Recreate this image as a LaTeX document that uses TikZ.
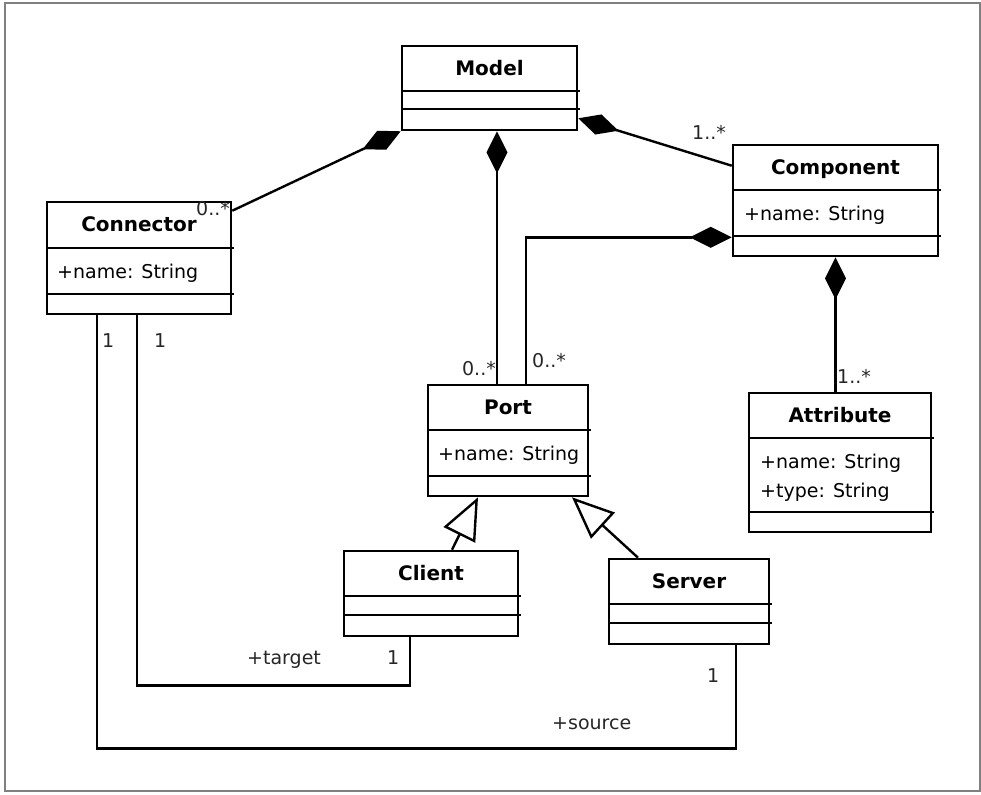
\documentclass[tikz,border=0pt]{standalone}
\usepackage{fontspec}
\setmainfont{DejaVu Sans}
\usetikzlibrary{arrows.meta,calc}
\tikzset{
  clsbox/.style={draw, line width=2.6pt, rectangle, inner sep=0pt, fill=white},
  divline/.style={line width=2.6pt},
  ctitle/.style={font=\bfseries\fontsize{20}{24}\selectfont, inner sep=0pt, text height=14pt, text depth=0pt},
  cattr/.style={font=\fontsize{19}{23}\selectfont, inner sep=0pt, text height=14pt, text depth=0pt, anchor=west},
  mult/.style={font=\fontsize{19}{23}\selectfont, text=black!85, inner sep=0pt, text height=14pt, text depth=0pt},
  assoc/.style={line width=2.4pt},
  compos/.style={assoc, {Diamond[length=42pt,width=21pt]}-},
  gener/.style={assoc, -{Triangle[open,length=42pt,width=35pt,fill=white]}},
}
% name, x1, y1, x2, y2, divider1, divider2, title
\newcommand\umlclass[8]{%
  \node[clsbox, minimum width={#4-#2}, minimum height={#5-#3}] (#1) at ({(#2+#4)/2},{(#3+#5)/2}) {};
  \draw[divline] (#2,#6) -- ({#4+3},#6);
  \draw[divline] (#2,#7) -- ({#4+3},#7);
  \node[ctitle] (#1-title) at ({(#2+#4)/2},{(#3+#6)/2}) {#8};
}
\begin{document}
\begin{tikzpicture}[x=1pt,y=-1pt]
\useasboundingbox (0,0) rectangle (981,794);
\draw[line width=2pt, color=gray] (4.5,3.5) rectangle (979.5,791);

% classes
\umlclass{model}{402}{46}{577}{130}{91}{109}{Model}
\umlclass{connector}{47}{202}{231}{314}{248}{294}{Connector}
\node[cattr] (connector-attr) at (57,271) {+name: String};
\umlclass{component}{733}{145}{938}{256}{190}{236}{Component}
\node[cattr] (component-attr) at (744,213) {+name: String};
\umlclass{port}{428}{385}{588}{496}{430}{476}{Port}
\node[cattr] (port-attr) at (438,453) {+name: String};
\umlclass{attribute}{749}{393}{931}{532}{438}{512}{Attribute}
\node[cattr] (attribute-attr1) at (760,461) {+name: String};
\node[cattr] (attribute-attr2) at (760,490) {+type: String};
\umlclass{client}{344}{551}{518}{636}{596}{615}{Client}
\umlclass{server}{609}{559}{769}{644}{604}{623}{Server}

% compositions
\draw[compos] (model.south west) -- ([yshift=-10pt]connector.north east);
\draw[compos] ([yshift=13pt]model.south east) -- ([yshift=-22pt]component.north west);
\draw[compos] ([xshift=7.5pt]model.south) -- ([xshift=-11pt]port.north);
\draw[compos] ([yshift=20pt]component.south west) -| ([xshift=18pt]port.north);
\draw[compos] (component.south) -- (component.south |- attribute.north);

% generalizations
\draw[gener] ([xshift=21pt]client.north) -- ([xshift=-30pt]port.south);
\draw[gener] ([xshift=-51pt]server.north) -- ([xshift=64pt]port.south);

% associations
\draw[assoc] ([xshift=-2pt]connector.south) -- ++(0,370) -| ([xshift=-21pt]client.south);
\draw[assoc] ([xshift=-42pt]connector.south) -- ++(0,433) -| ([xshift=47pt]server.south);

% multiplicities and roles
\node[mult, anchor=west] (m-conn) at (196,208) {0..*};
\node[mult, anchor=west] (m-comp) at (692,133) {1..*};
\node[mult, anchor=east] (m-port1) at (496,368) {0..*};
\node[mult, anchor=west] (m-port2) at (532,360) {0..*};
\node[mult, anchor=west] (m-attr) at (837,376) {1..*};
\node[mult, anchor=west] (m-c1) at (102,340) {1};
\node[mult, anchor=west] (m-c2) at (154,340) {1};
\node[mult, anchor=west] (r-target) at (247,657) {+target};
\node[mult, anchor=west] (m-target) at (387,657) {1};
\node[mult, anchor=west] (m-source) at (707,675) {1};
\node[mult, anchor=west] (r-source) at (552,722) {+source};
\end{tikzpicture}
\end{document}
